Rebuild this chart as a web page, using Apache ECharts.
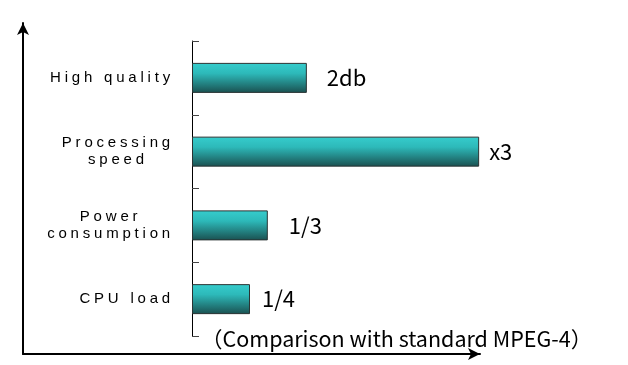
<!DOCTYPE html>
<html><head><meta charset="utf-8">
<script src="https://cdn.jsdelivr.net/npm/echarts@6/dist/echarts.min.js"></script>
<style>html,body{margin:0;padding:0;background:#fff}#c{width:628px;height:365px}</style>
</head><body><div id="c"></div>
<script>
// ---- data ----
const categories = ['High quality', 'Processing\nspeed', 'Power\nconsumption', 'CPU load'];
const values = [2.0, 5.0, 1.32, 1.01];
const valueLabels = ['2db', 'x3', '1/3', '1/4'];
const note = '（Comparison with standard MPEG-4）';

// ---- wide category-label lettering (reference uses horizontally wide text) ----
(function () {
  const P = CanvasRenderingContext2D.prototype;
  if (!('letterSpacing' in P)) return;
  ['fillText', 'measureText'].forEach(function (name) {
    const orig = P[name];
    P[name] = function () {
      const f = this.font || '';
      const want = f.indexOf('Liberation Sans') >= 0 ? '3.8px' : '0px';
      if (this.letterSpacing !== want) {
        this.letterSpacing = want;
        this.font = f;
      }
      return orig.apply(this, arguments);
    };
  });
})();

const labelGaps = [20, 10, 21, 12];
const barFill = new echarts.graphic.LinearGradient(0, 0, 0, 1, [
  { offset: 0, color: '#36CDCD' },
  { offset: 0.35, color: '#2DB9B9' },
  { offset: 1, color: '#1A5050' }
]);

const chart = echarts.init(document.getElementById('c'), null, { renderer: 'canvas' });
chart.setOption({
  animation: false,
  backgroundColor: '#fff',
  title: {
    text: note, left: 201, top: 328, padding: 0,
    textStyle: { fontFamily: 'Noto Sans CJK JP', fontSize: 21.5, fontWeight: 'normal', color: '#000' }
  },
  grid: [
    { left: 192, right: 34, top: 41, bottom: 29 },
    { left: 23, right: 148, top: 23, bottom: 11 }
  ],
  xAxis: [
    { gridIndex: 0, type: 'value', min: 0, max: 7, show: false },
    {
      gridIndex: 1, type: 'value', min: 0, max: 1,
      axisLine: { show: true, symbol: ['none', 'arrow'], symbolSize: [9, 12], lineStyle: { color: '#000', width: 2 } },
      axisTick: { show: false }, axisLabel: { show: false }, splitLine: { show: false }
    }
  ],
  yAxis: [
    {
      gridIndex: 0, type: 'category', inverse: true, data: categories,
      axisLine: { show: true, lineStyle: { color: '#000', width: 1 } },
      axisTick: { show: true, inside: true, length: 7, lineStyle: { color: '#444' } },
      axisLabel: {
        margin: 18,
        formatter: function (v) { return v.split('\n').map(function (s) { return '{c|' + s + '}'; }).join('\n'); },
        rich: { c: { align: 'center', fontFamily: 'Liberation Sans', fontSize: 15, lineHeight: 17, color: '#000' } }
      },
      splitLine: { show: false }
    },
    {
      gridIndex: 1, type: 'value', min: 0, max: 1,
      axisLine: { show: true, symbol: ['none', 'arrow'], symbolSize: [9, 12], lineStyle: { color: '#000', width: 2 } },
      axisTick: { show: false }, axisLabel: { show: false }, splitLine: { show: false }
    }
  ],
  series: [{
    type: 'bar', xAxisIndex: 0, yAxisIndex: 0, barWidth: 30,
    itemStyle: { color: barFill, borderColor: '#2a3333', borderWidth: 1 },
    data: values.map(function (v, i) {
      return { value: v, label: { distance: labelGaps[i] } };
    }),
    label: {
      show: true, position: 'right',
      formatter: function (p) { return valueLabels[p.dataIndex]; },
      fontFamily: 'Noto Sans CJK JP', fontSize: 22, color: '#000'
    }
  }]
});
</script>
</body></html>
